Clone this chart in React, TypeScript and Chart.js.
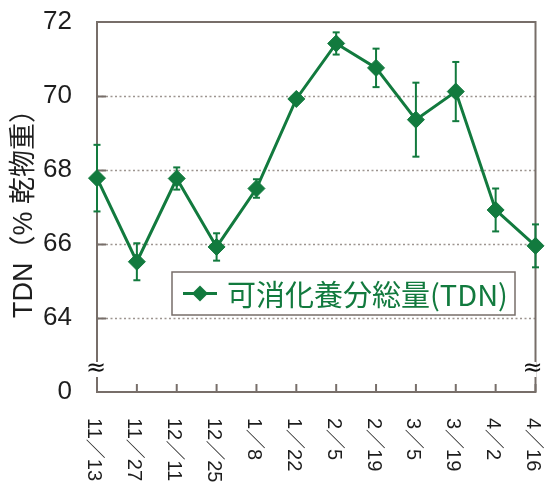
import { useEffect, useRef } from "react";
import { Chart, registerables } from "chart.js";
Chart.register(...registerables);

const categories = ["11/13", "11/27", "12/11", "12/25", "1/8", "1/22", "2/5", "2/19", "3/5", "3/19", "4/2", "4/16"];
const tdnValues = [67.78, 65.52, 67.77, 65.92, 67.5, 69.92, 71.42, 70.76, 69.36, 70.12, 66.92, 65.95];
const tdnErrors = [0.9, 0.5, 0.3, 0.37, 0.25, 0.1, 0.3, 0.52, 1.0, 0.8, 0.58, 0.58];
const yTickValues = [62, 64, 66, 68, 70, 72];
const yTickLabels = ["0", "64", "66", "68", "70", "72"];
const gridValues = [64, 66, 68, 70];
const seriesName = "可消化養分総量(TDN)";
const yTitle = "TDN（% 乾物重）";

const GREEN = "#127a3e";
const AXIS = "#776e69";
const GRID = "#9d9590";
const TEXT = "#1e1e1e";

function line(ctx: CanvasRenderingContext2D, x1: number, y1: number, x2: number, y2: number) {
  ctx.beginPath();
  ctx.moveTo(x1, y1);
  ctx.lineTo(x2, y2);
  ctx.stroke();
}

const decorPlugin = {
  id: "decor",
  beforeDatasetsDraw(chart: any) {
    const { ctx, chartArea, scales } = chart;
    const { left, right, top, bottom } = chartArea;
    const y = scales.y;
    const x = scales.x;
    ctx.save();
    ctx.strokeStyle = GRID;
    ctx.lineWidth = 1.5;
    ctx.setLineDash([2, 2.5]);
    for (const v of gridValues) {
      const py = Math.round(y.getPixelForValue(v)) + 0.5;
      line(ctx, left, py, right, py);
    }
    ctx.setLineDash([]);
    ctx.strokeStyle = AXIS;
    ctx.lineWidth = 2;
    for (const v of gridValues) {
      const py = Math.round(y.getPixelForValue(v)) + 0.5;
      line(ctx, left, py, left + 9, py);
    }
    categories.forEach((_, i) => {
      const px = x.getPixelForValue(i);
      line(ctx, px, bottom, px, bottom - 8);
    });
    ctx.strokeRect(left, top, right - left, bottom - top);
    const meta = chart.getDatasetMeta(0);
    ctx.strokeStyle = GREEN;
    ctx.lineWidth = 2;
    meta.data.forEach((pt: any, i: number) => {
      const hi = y.getPixelForValue(tdnValues[i] + tdnErrors[i]);
      const lo = y.getPixelForValue(tdnValues[i] - tdnErrors[i]);
      line(ctx, pt.x, hi, pt.x, lo);
      line(ctx, pt.x - 3.5, hi, pt.x + 3.5, hi);
      line(ctx, pt.x - 3.5, lo, pt.x + 3.5, lo);
    });
    ctx.restore();
  },
  afterDatasetsDraw(chart: any) {
    const { ctx, chartArea, scales } = chart;
    const { left, right, top, bottom } = chartArea;
    const x = scales.x;
    ctx.save();
    for (const bx of [left, right - 2]) {
      ctx.fillStyle = "#ffffff";
      ctx.fillRect(bx - 2, bottom - 30, 5, 15);
      ctx.fillStyle = "#111";
      ctx.font = '24px "DejaVu Sans"';
      ctx.textAlign = "center";
      ctx.textBaseline = "middle";
      ctx.fillText("≈", bx - 1, bottom - 23);
    }
    ctx.fillStyle = TEXT;
    ctx.font = '20px "Liberation Sans", "Noto Sans CJK JP"';
    ctx.textAlign = "left";
    ctx.textBaseline = "middle";
    categories.forEach((c, i) => {
      const px = x.getPixelForValue(i) - 3;
      ctx.save();
      ctx.translate(px, bottom + 26);
      ctx.rotate(Math.PI / 2);
      ctx.fillText(c.replace("/", "／"), 0, 0);
      ctx.restore();
    });
    ctx.save();
    ctx.translate(25, (top + bottom) / 2);
    ctx.rotate(-Math.PI / 2);
    ctx.font = '27px "Liberation Sans", "Noto Sans CJK JP"';
    ctx.textAlign = "center";
    ctx.textBaseline = "middle";
    ctx.fillStyle = TEXT;
    ctx.fillText(yTitle, 0, 0);
    ctx.restore();
    const lx = left + 75;
    const ly = top + 250;
    const lw = 343;
    const lh = 43;
    ctx.fillStyle = "#ffffff";
    ctx.fillRect(lx, ly, lw, lh);
    ctx.strokeStyle = AXIS;
    ctx.lineWidth = 1.5;
    ctx.strokeRect(lx, ly, lw, lh);
    const cy = ly + lh / 2;
    ctx.strokeStyle = GREEN;
    ctx.lineWidth = 3;
    line(ctx, lx + 11, cy, lx + 45, cy);
    ctx.fillStyle = GREEN;
    ctx.beginPath();
    ctx.moveTo(lx + 28 - 8, cy);
    ctx.lineTo(lx + 28, cy - 8);
    ctx.lineTo(lx + 28 + 8, cy);
    ctx.lineTo(lx + 28, cy + 8);
    ctx.closePath();
    ctx.fill();
    ctx.font = '29px "Noto Sans CJK JP"';
    ctx.textAlign = "left";
    ctx.textBaseline = "middle";
    ctx.fillText(seriesName, lx + 55, cy + 1);
    ctx.restore();
  },
};

export default function App() {
  const canvasRef = useRef<HTMLCanvasElement>(null);
  useEffect(() => {
    document.body.style.margin = "0";
    const canvas = canvasRef.current;
    if (!canvas) return;
    const chart = new Chart(canvas, {
      type: "line",
      data: {
        labels: categories,
        datasets: [
          {
            label: seriesName,
            data: tdnValues,
            borderColor: GREEN,
            backgroundColor: GREEN,
            borderWidth: 3,
            pointStyle: "rectRot",
            pointRadius: 8.5,
            pointBorderWidth: 1,
            pointBackgroundColor: GREEN,
            pointBorderColor: GREEN,
            tension: 0,
            clip: false as any,
          },
        ],
      },
      options: {
        animation: false,
        responsive: false,
        layout: { padding: { top: 22, right: 8, bottom: 0, left: 0 } },
        plugins: { legend: { display: false }, tooltip: { enabled: false } },
        scales: {
          x: {
            type: "category",
            offset: false,
            grid: { display: false, drawTicks: false },
            border: { display: false },
            ticks: { display: false },
            afterFit: (s: any) => {
              s.height = 98;
              s.paddingLeft = 0;
              s.paddingRight = 0;
            },
          },
          y: {
            min: 62,
            max: 72,
            afterBuildTicks: (s: any) => {
              s.ticks = yTickValues.map((v) => ({ value: v }));
            },
            grid: { display: false, drawTicks: false },
            border: { display: false },
            ticks: {
              padding: 25,
              color: TEXT,
              font: { family: '"Liberation Sans", Arial, sans-serif', size: 26 },
              callback: (v: any) => yTickLabels[yTickValues.indexOf(Number(v))] ?? "",
            },
            afterFit: (s: any) => {
              s.width = 97;
              s.paddingTop = 0;
              s.paddingBottom = 0;
            },
          },
        },
      },
      plugins: [decorPlugin],
    });
    return () => chart.destroy();
  }, []);
  return (
    <div style={{ width: 545, height: 490 }}>
      <canvas ref={canvasRef} width={545} height={490} style={{ display: "block" }} />
    </div>
  );
}
